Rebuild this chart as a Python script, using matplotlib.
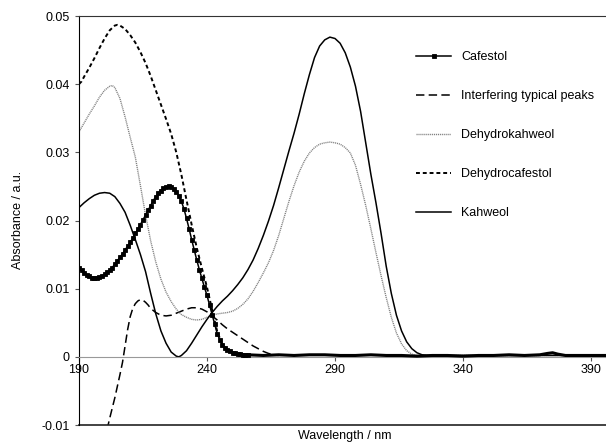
import matplotlib
matplotlib.use("Agg")
import matplotlib.pyplot as plt

plt.rcParams["font.family"] = ["Liberation Sans", "DejaVu Sans"]
plt.rcParams["axes.unicode_minus"] = False
plt.rcParams["lines.solid_joinstyle"] = "round"
plt.rcParams["lines.dash_joinstyle"] = "round"

# Cafestol, read at 1 nm steps (markers on each point)
caf_wl = list(range(190, 257))
caf_abs = [0.0131, 0.0127, 0.0123, 0.0120, 0.0118, 0.0116, 0.0116, 0.0116, 0.0117, 0.0119,
           0.0121, 0.0124, 0.0127, 0.0131, 0.0136, 0.0141, 0.0146, 0.0151, 0.0157, 0.0162,
           0.0168, 0.0174, 0.0181, 0.0187, 0.0194, 0.0201, 0.0208, 0.0215, 0.0222, 0.0229,
           0.0235, 0.0240, 0.0244, 0.0247, 0.0249, 0.0250, 0.0249, 0.0246, 0.0242, 0.0236,
           0.0228, 0.0217, 0.0203, 0.0188, 0.0172, 0.0157, 0.0142, 0.0128, 0.0115, 0.0102,
           0.0090, 0.0076, 0.0062, 0.0048, 0.0034, 0.0025, 0.0018, 0.0013, 0.0010, 0.0008,
           0.0006, 0.0005, 0.0004, 0.0004, 0.0003, 0.0003, 0.0003]
# noisy cafestol baseline beyond 256 nm
base_wl = [256, 262, 268, 274, 280, 286, 292, 298, 304, 310, 316, 322, 328, 334, 340,
           346, 352, 358, 364, 370, 373, 375, 377, 380, 386, 392, 396]
base_abs = [0.0003, 0.0002, 0.0003, 0.0002, 0.0003, 0.0003, 0.0002, 0.0002, 0.0003, 0.0002,
            0.0002, 0.0001, 0.0002, 0.0002, 0.0001, 0.0002, 0.0002, 0.0003, 0.0002, 0.0003,
            0.0005, 0.0006, 0.0004, 0.0002, 0.0002, 0.0002, 0.0002]

kah_wl = [190, 192, 194, 196, 198, 200, 202, 204, 206, 208, 210, 212, 214, 216, 218, 220,
          222, 224, 226, 228, 229, 230, 232, 234, 236, 238, 240, 242, 244, 246, 248, 250,
          252, 254, 256, 258, 260, 262, 264, 266, 268, 270, 272, 274, 276, 278, 280, 282,
          284, 286, 288, 290, 292, 294, 296, 298, 300, 302, 304, 306, 308, 310, 312, 314,
          316, 318, 320, 322, 324, 326, 340, 360, 380, 396]
kah_abs = [0.0219, 0.0226, 0.0232, 0.0237, 0.0240, 0.0241, 0.0240, 0.0235, 0.0225, 0.0212,
           0.0193, 0.0172, 0.0150, 0.0125, 0.0093, 0.0063, 0.0038, 0.0020, 0.0007, 0.0001,
           0.0000, 0.0002, 0.0009, 0.0020, 0.0032, 0.0044, 0.0055, 0.0065, 0.0074, 0.0082,
           0.0089, 0.0097, 0.0106, 0.0116, 0.0128, 0.0142, 0.0159, 0.0178, 0.0199, 0.0222,
           0.0248, 0.0275, 0.0302, 0.0328, 0.0356, 0.0386, 0.0414, 0.0439, 0.0456, 0.0465,
           0.0469, 0.0467, 0.0460, 0.0446, 0.0425, 0.0397, 0.0360, 0.0314, 0.0268, 0.0226,
           0.0181, 0.0133, 0.0093, 0.0061, 0.0038, 0.0022, 0.0012, 0.0006, 0.0003, 0.0002,
           0.0002, 0.0002, 0.0002, 0.0002]

dhk_wl = [190, 192, 194, 196, 198, 200, 202, 203, 204, 206, 208, 210, 212, 214, 216, 218,
          220, 222, 224, 226, 228, 230, 232, 234, 236, 238, 240, 242, 244, 246, 248, 250,
          252, 254, 256, 258, 260, 262, 264, 266, 268, 270, 272, 274, 276, 278, 280, 282,
          284, 286, 288, 290, 292, 294, 296, 298, 300, 302, 304, 306, 308, 310, 312, 314,
          316, 318, 320, 322, 340, 360, 380, 396]
dhk_abs = [0.0330, 0.0343, 0.0356, 0.0368, 0.0381, 0.0391, 0.0397, 0.0398, 0.0395, 0.0379,
           0.0352, 0.0322, 0.0293, 0.0251, 0.0208, 0.0170, 0.0139, 0.0114, 0.0095, 0.0081,
           0.0070, 0.0062, 0.0058, 0.0055, 0.0054, 0.0055, 0.0058, 0.0061, 0.0063, 0.0064,
           0.0065, 0.0067, 0.0071, 0.0077, 0.0085, 0.0096, 0.0109, 0.0123, 0.0138, 0.0156,
           0.0178, 0.0203, 0.0228, 0.0251, 0.0271, 0.0287, 0.0299, 0.0307, 0.0312, 0.0314,
           0.0315, 0.0314, 0.0312, 0.0307, 0.0299, 0.0281, 0.0253, 0.0222, 0.0188, 0.0153,
           0.0119, 0.0087, 0.0058, 0.0035, 0.0019, 0.0009, 0.0004, 0.0002, 0.0002, 0.0002,
           0.0002, 0.0002]

dhc_wl = [190, 191, 192, 194, 196, 198, 200, 202, 204, 205, 206, 208, 210, 212, 214, 216,
          218, 220, 222, 224, 226, 228, 230, 232, 234, 236, 238, 240, 242, 244, 246, 248,
          250, 252, 255]
dhc_abs = [0.0400, 0.0404, 0.0411, 0.0424, 0.0438, 0.0453, 0.0467, 0.0479, 0.0486, 0.0487,
           0.0486, 0.0481, 0.0472, 0.0461, 0.0447, 0.0431, 0.0412, 0.0391, 0.0370, 0.0349,
           0.0327, 0.0300, 0.0267, 0.0230, 0.0194, 0.0160, 0.0130, 0.0102, 0.0069, 0.0037,
           0.0018, 0.0010, 0.0006, 0.0004, 0.0003]

intf_wl = [200, 201, 202, 203, 204, 205, 206, 207, 208, 209, 210, 211, 212, 213, 214, 215,
           216, 217, 218, 220, 222, 224, 226, 228, 230, 232, 234, 236, 238, 240, 242, 244,
           246, 248, 250, 252, 254, 256, 258, 260, 262, 264, 266, 268]
intf_abs = [-0.0125, -0.0106, -0.0090, -0.0075, -0.0060, -0.0043, -0.0026, -0.0008, 0.0016,
            0.0040, 0.0059, 0.0071, 0.0078, 0.0082, 0.0084, 0.0083, 0.0080, 0.0076, 0.0071,
            0.0065, 0.0061, 0.0060, 0.0061, 0.0064, 0.0067, 0.0070, 0.0072, 0.0072, 0.0070,
            0.0066, 0.0060, 0.0054, 0.0047, 0.0041, 0.0036, 0.0031, 0.0026, 0.0021, 0.0016,
            0.0012, 0.0008, 0.0005, 0.0003, 0.0002]

x_ticks = [190, 240, 290, 340, 390]
y_ticks = [-0.01, 0, 0.01, 0.02, 0.03, 0.04, 0.05]
y_tick_labels = ["-0.01", "0", "0.01", "0.02", "0.03", "0.04", "0.05"]

fig = plt.figure(figsize=(6.06, 4.42), dpi=100)
ax = fig.add_axes([79 / 606, 1 - 425 / 442, 1 - 79 / 606, 409 / 442])

ax.plot(caf_wl, caf_abs, color="black", lw=1.1, marker="s", ms=2.4,
        markeredgewidth=0.6, label="Cafestol", zorder=5)
ax.plot(base_wl, base_abs, color="black", lw=2.2, zorder=5)
ax.plot(intf_wl, intf_abs, color="black", lw=1.1, dashes=(5.5, 2.8),
        label="Interfering typical peaks")
ax.plot(dhk_wl, dhk_abs, color="#808080", lw=1.0, ls=(0, (0.8, 0.6)),
        label="Dehydrokahweol")
ax.plot(dhc_wl, dhc_abs, color="black", lw=1.4, dashes=(2.0, 1.5),
        label="Dehydrocafestol")
ax.plot(kah_wl, kah_abs, color="black", lw=1.1, label="Kahweol")

ax.set_xlim(190, 190 + 527 / 2.56)
ax.set_ylim(-0.01, 0.05)

ax.spines["right"].set_visible(False)
ax.spines["top"].set_color("#333333")
ax.spines["left"].set_color("black")
ax.spines["bottom"].set_position(("data", 0))
ax.spines["bottom"].set_color("#999999")
ax.spines["bottom"].set_linewidth(0.8)
ax.plot([0, 1], [0, 0], transform=ax.transAxes, color="#222222", lw=1.2, clip_on=False)

ax.set_xticks(x_ticks)
ax.set_yticks(y_ticks)
ax.set_yticklabels(y_tick_labels)
ax.tick_params(axis="both", labelsize=9, length=3, width=0.8, color="#555555")
ax.tick_params(axis="x", pad=2)

fig.text(18 / 606, 1 - 220 / 442, "Absorbance / a.u.", rotation=90,
         ha="center", va="center", fontsize=9)
fig.text(345 / 606, 1 - 436 / 442, "Wavelength / nm", ha="center", va="center", fontsize=9)

ax.legend(loc="upper left", bbox_to_anchor=(416 / 606, 1 - 51 / 442),
          bbox_transform=fig.transFigure, frameon=False, fontsize=9,
          handlelength=2.8, handletextpad=0.8, labelspacing=2.17, borderpad=0,
          borderaxespad=0)

fig.savefig("out.png", dpi=100)
